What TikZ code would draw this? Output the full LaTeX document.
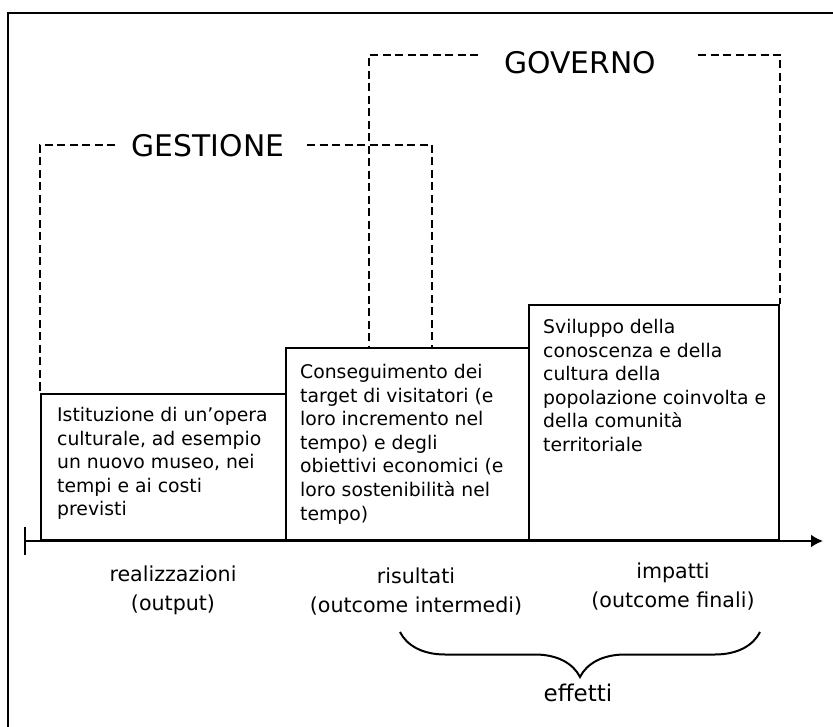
\documentclass[tikz,border=0pt]{standalone}
\usepackage{fontspec}
\setmainfont{DejaVu Sans}
\usetikzlibrary{arrows.meta,decorations.pathreplacing}

\begin{document}
\begin{tikzpicture}[x=1pt,y=-1pt,>={Latex[length=12pt,width=13pt]},
    box/.style={draw,line width=2pt,anchor=south west,inner sep=0pt},
    txt/.style={anchor=north west,align=left,inner sep=0pt,font=\fontsize{18.8}{23.6}\selectfont},
    lab/.style={align=center,inner sep=0pt,font=\fontsize{20.6}{29}\selectfont},
    title/.style={inner sep=0pt,font=\fontsize{29.8}{31}\selectfont},
    ambito/.style={line width=2.2pt,dash pattern=on 8pt off 4.5pt}]
    \useasboundingbox (0,0) rectangle (833,727);
    \begin{scope}
      \clip (0,0) rectangle (833,727);
      \draw[line width=2pt] (8,13) rectangle (850,745);
    \end{scope}
    % boxes on the axis
    \node[box,minimum width=245,minimum height=146] (b1) at (40,541) {};
    \node[box,minimum width=243,minimum height=192] (b2) at (285,541) {};
    \node[box,minimum width=250,minimum height=235] (b3) at (528,541) {};
    \node[txt] (t1) at (57,407) {Istituzione di un’opera\\culturale, ad esempio\\un nuovo museo, nei\\tempi e ai costi\\previsti};
    \node[txt] (t2) at (300,364) {Conseguimento dei\\target di visitatori (e\\loro incremento nel\\tempo) e degli\\obiettivi economici (e\\loro sostenibilità nel\\tempo)};
    \node[txt] (t3) at (543,319) {Sviluppo della\\conoscenza e della\\cultura della\\popolazione coinvolta e\\della comunità\\territoriale};
    % time axis
    \coordinate (o) at (24,541);
    \coordinate (e) at (823,541);
    \draw[line width=2pt,{Bar[width=28pt]}->] (o) -- (e);
    \node[lab] (real) at (173,590) {realizzazioni\\(output)};
    \node[lab] (ris)  at (416,592) {risultati\\(outcome intermedi)};
    \node[lab] (imp)  at (673,587) {impatti\\(outcome finali)};
    % gestione / governo
    \node[title] (gest) at (208,146) {GESTIONE};
    \node[title] (gov)  at (580,63)  {GOVERNO};
    \coordinate (gesl) at (115,145);
    \coordinate (gesr) at (307,145);
    \coordinate (gesd) at (432,349);
    \coordinate (govl) at (478,55);
    \coordinate (govr) at (698,55);
    \coordinate (govd) at (369,349);
    \draw[ambito] (gesl) -| (b1.north west);
    \draw[ambito] (gesr) -| (gesd);
    \draw[ambito] (govl) -| (govd);
    \draw[ambito] (govr) -| (b3.north east);
    % effetti
    \coordinate (bl) at (400,632);
    \coordinate (br) at (760,632);
    \draw[line width=2pt,decorate,decoration={brace,mirror,amplitude=45pt}] (bl) -- (br);
    \node[inner sep=0pt,font=\fontsize{23}{25}\selectfont] (eff) at (578,693) {effetti};
  \end{tikzpicture}
\end{document}
